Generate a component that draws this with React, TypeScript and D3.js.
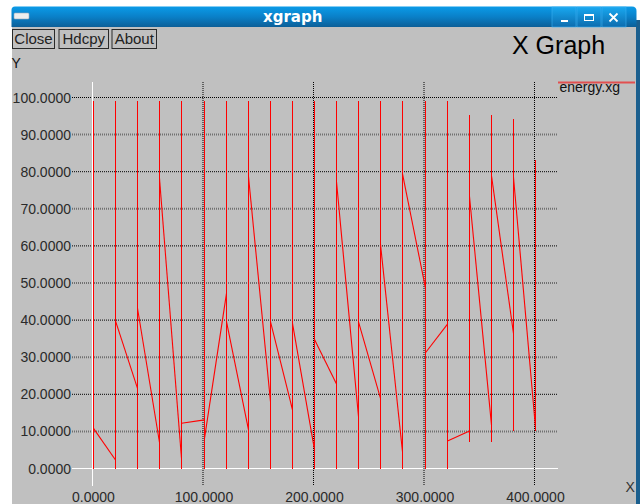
import React from 'react';
import * as d3 from 'd3';

// ---- data ----
const xValues = [0, 20, 40, 60, 80, 100, 120, 140, 160, 180, 200, 220, 240, 260, 280, 300, 320, 340, 360, 380, 400];
const spikeLow = [0, 0, 0, 0, 0, 0, 0, 0, 0, 0, 0, 0, 0, 0, 0, 0, 0, 7.1, 7.1, 10.1, 10.1];
const spikeHigh = [99, 99, 99, 99, 99, 99, 99, 99, 99, 99, 99, 99, 99, 99, 99, 99, 99, 95.3, 95.3, 94.1, 83.2];
const decayStart = [10.8, 39.8, 43.2, 78.2, 12.2, 8.1, 39.6, 78.7, 39.6, 39.1, 34.8, 77.3, 39.5, 60.4, 79.4, 31.2, 7.4, 73.3, 78.9, 78.5];
const decayEnd = [2.3, 21.6, 7.0, 2.7, 13.1, 47.2, 10.4, 18.0, 15.8, 5.0, 22.8, 14.0, 18.9, 4.5, 48.6, 38.9, 10.1, 11.7, 36.4, 11.0];
const yTicks = [0, 10, 20, 30, 40, 50, 60, 70, 80, 90, 100];
const xTicks = [0, 100, 200, 300, 400];
const legendLabel = 'energy.xg';
const windowTitle = 'xgraph';
const graphTitle = 'X Graph';
const buttonLabels = ['Close', 'Hdcpy', 'About'];
const yAxisLabel = 'Y';
const xAxisLabel = 'X';

const FONT = '"Liberation Sans", Arial, Helvetica, sans-serif';

export default function App() {
  const W = 640;
  const H = 504;
  const xScale = d3.scaleLinear().domain([0, 400]).range([92.5, 534.5]);
  const yScale = d3.scaleLinear().domain([0, 100]).range([468.5, 97.5]);
  const dataX = (v: number) => Math.round(xScale(v) + 0.5) + 0.5;

  const line = d3
    .line<[number, number]>()
    .x((d) => dataX(d[0]))
    .y((d) => yScale(d[1]));

  const segments: [number, number][][] = decayStart.map((s, i) => [
    [xValues[i], s],
    [xValues[i + 1], decayEnd[i]],
  ]);

  const gridLeft = 72;
  const gridRight = 558;
  const gridTop = 82;
  const gridBottom = 486;

  const buttonBoxes = [
    { x: 12, w: 42 },
    { x: 58.5, w: 49.5 },
    { x: 111.5, w: 44.5 },
  ];

  return (
    <svg
      width={W}
      height={H}
      style={{ position: 'absolute', left: 0, top: 0, display: 'block' }}
      xmlns="http://www.w3.org/2000/svg"
    >
      <defs>
        <linearGradient id="tb" x1="0" y1="0" x2="0" y2="1">
          <stop offset="0" stopColor="#0b9be8" />
          <stop offset="0.5" stopColor="#0a80c8" />
          <stop offset="1" stopColor="#0c5f98" />
        </linearGradient>
        <linearGradient id="tbb" x1="0" y1="0" x2="0" y2="1">
          <stop offset="0" stopColor="#18a8f0" />
          <stop offset="1" stopColor="#0d6cae" />
        </linearGradient>
      </defs>
      {/* page background */}
      <rect x={0} y={0} width={W} height={H} fill="#ffffff" />
      {/* window body */}
      <rect x={12} y={26} width={624} height={H - 26} fill="#c0c0c0" />
      <rect x={636} y={20} width={4} height={H - 20} fill="#1b5f8e" />
      {/* title bar */}
      <path d="M11.5,27 L11.5,10 Q11.5,6.5 15,6.5 L632,6.5 Q636.5,6.5 636.5,11 L636.5,27 Z" fill="url(#tb)" />
      <rect x={14} y={13} width={15} height={6} rx={1} fill="#eeeeee" stroke="#9ab" strokeWidth={0.6} />
      <text x={263} y={22} fill="#ffffff" fontFamily='"DejaVu Sans", sans-serif' fontWeight="bold" fontSize={15}>
        {windowTitle}
      </text>
      {[552, 577, 602].map((bx, i) => (
        <rect key={i} x={bx} y={7} width={24} height={20} fill="url(#tbb)" stroke="#3aaef0" strokeWidth={0.6} />
      ))}
      <rect x={561} y={20} width={7} height={2} fill="#ffffff" />
      <rect x={584.5} y={14.5} width={9} height={6} fill="none" stroke="#ffffff" strokeWidth={1} />
      <rect x={584} y={14} width={10} height={2} fill="#ffffff" />
      <path d="M609.5,13.5 L617.5,21.5 M617.5,13.5 L609.5,21.5" stroke="#ffffff" strokeWidth={1.8} />

      {/* buttons */}
      {buttonLabels.map((b, i) => (
        <g key={b}>
          <rect
            x={buttonBoxes[i].x + 0.5}
            y={29.5}
            width={buttonBoxes[i].w}
            height={19}
            fill="#c0c0c0"
            stroke="#2a2a2a"
            strokeWidth={1}
          />
          <text
            x={buttonBoxes[i].x + buttonBoxes[i].w / 2 + 0.5}
            y={44}
            textAnchor="middle"
            fontFamily={FONT}
            fontSize={15}
            fill="#222"
          >
            {b}
          </text>
        </g>
      ))}
      <text x={512} y={54} fontFamily={FONT} fontSize={25} fill="#000">
        {graphTitle}
      </text>
      <text x={11.5} y={68} fontFamily={FONT} fontSize={14} fill="#111">
        {yAxisLabel}
      </text>

      {/* horizontal grid */}
      {yTicks.map((t) => {
        const y = yScale(t);
        if (t === 0) {
          return <line key={t} x1={gridLeft} x2={gridRight} y1={y} y2={y} stroke="#ffffff" strokeWidth={1} />;
        }
        const even = (t / 10) % 2 === 0;
        return (
          <line
            key={t}
            x1={gridLeft}
            x2={gridRight}
            y1={y}
            y2={y}
            stroke={even ? '#000' : '#3a3a3a'}
            strokeOpacity={even ? 1 : 0.6}
            strokeWidth={even ? 1 : 2}
            strokeDasharray="1 1"
          />
        );
      })}
      {/* vertical grid */}
      {xTicks.map((t) => {
        const x = xScale(t);
        if (t === 0) {
          return <line key={t} x1={x} x2={x} y1={gridTop} y2={gridBottom} stroke="#ffffff" strokeWidth={1} />;
        }
        return (
          <line key={t} x1={x} x2={x} y1={gridTop} y2={gridBottom} stroke="#000" strokeWidth={1} strokeDasharray="1 1" />
        );
      })}

      {/* y tick labels */}
      {yTicks.map((t) => (
        <text
          key={t}
          x={71}
          y={yScale(t) + 5}
          textAnchor="end"
          fontFamily={FONT}
          fontSize={14}
          fill="#2a2a2a"
        >
          {t.toFixed(4)}
        </text>
      ))}
      {/* x tick labels */}
      {xTicks.map((t) => (
        <text
          key={t}
          x={xScale(t) + 1}
          y={502}
          textAnchor="middle"
          fontFamily={FONT}
          fontSize={14}
          fill="#2a2a2a"
        >
          {t.toFixed(4)}
        </text>
      ))}
      <text x={625.5} y={492} fontFamily={FONT} fontSize={14} fill="#333">
        {xAxisLabel}
      </text>

      {/* data: spikes */}
      {xValues.map((x, i) => (
        <line
          key={'s' + i}
          x1={dataX(x)}
          x2={dataX(x)}
          y1={yScale(spikeLow[i])}
          y2={yScale(spikeHigh[i])}
          stroke="#ff0000"
          strokeWidth={1}
          shapeRendering="crispEdges"
        />
      ))}
      {/* data: decays */}
      {segments.map((seg, i) => (
        <path key={'d' + i} d={line(seg) || ''} fill="none" stroke="#ff0000" strokeWidth={1.1} />
      ))}

      {/* legend */}
      <line x1={558} x2={635} y1={82.5} y2={82.5} stroke="#e25050" strokeWidth={2} />
      <text x={559.5} y={92} fontFamily={FONT} fontSize={14} fill="#111">
        {legendLabel}
      </text>
    </svg>
  );
}
